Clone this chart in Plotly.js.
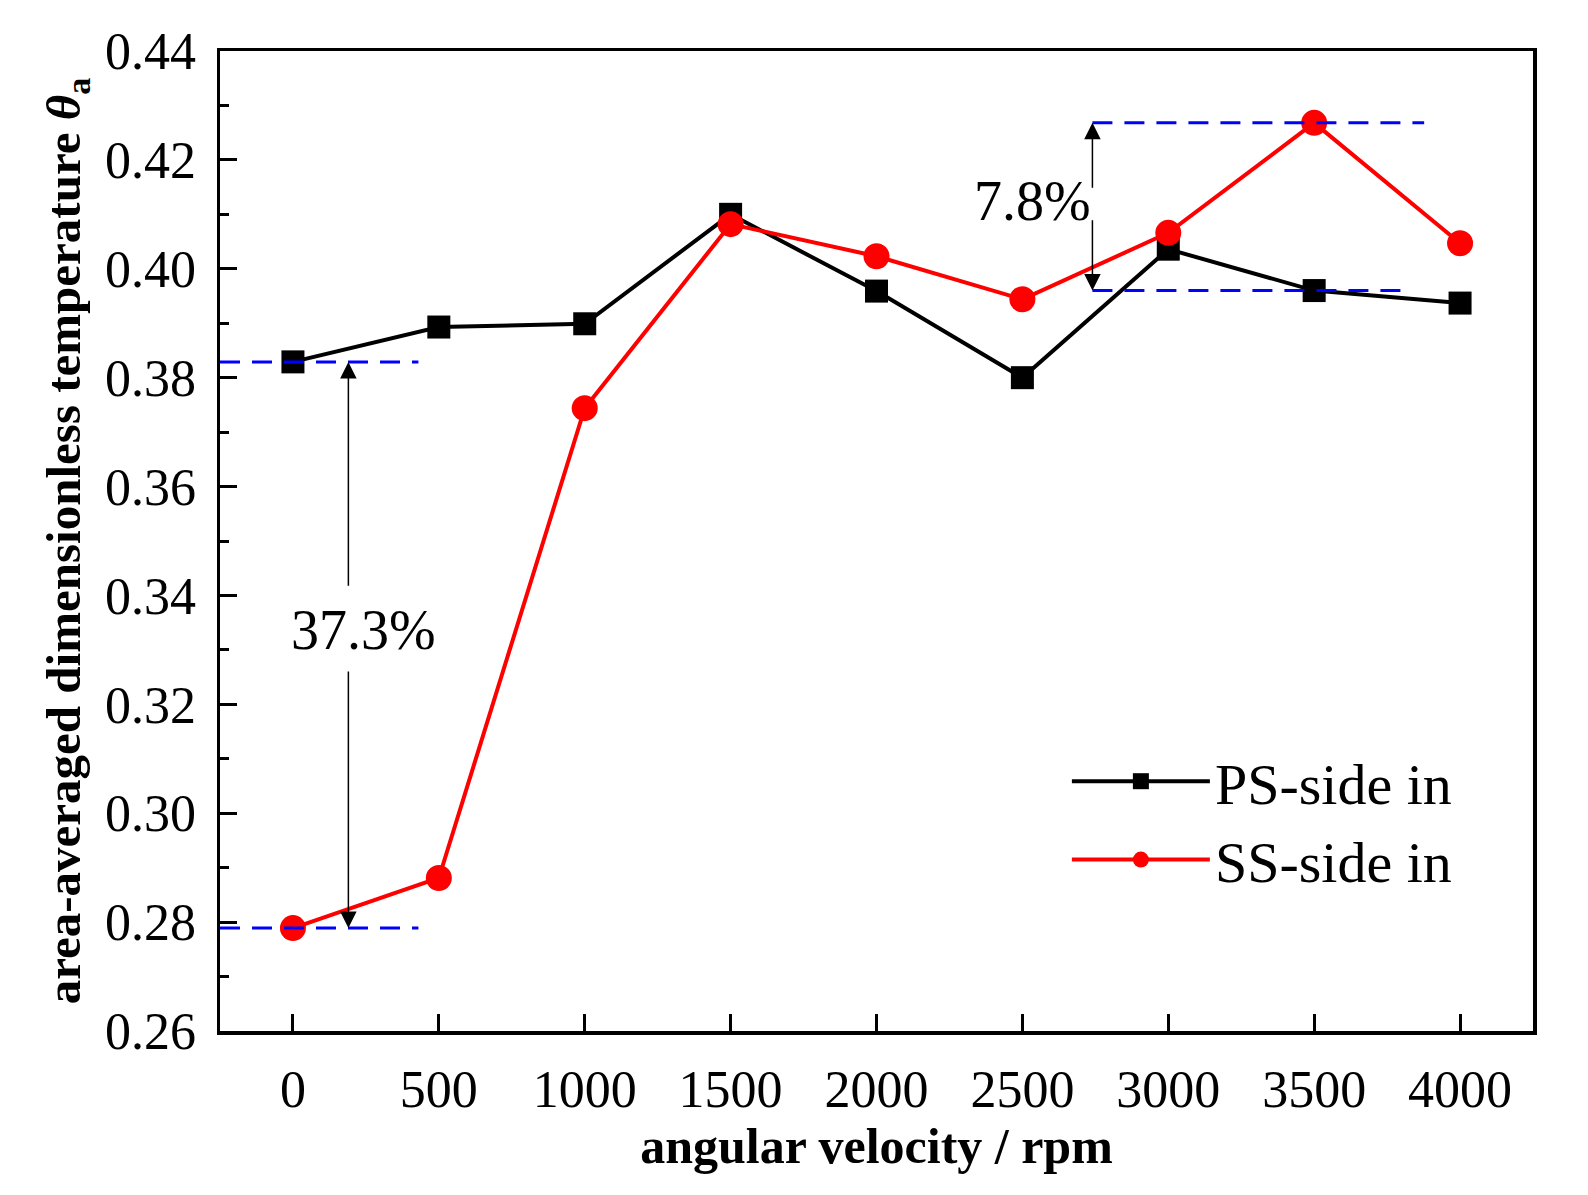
<!DOCTYPE html>
<html>
<head>
<meta charset="utf-8">
<script src="https://cdn.plot.ly/plotly-3.0.1.min.js"></script>
<style>
  body { margin: 0; background: #fff; }
  #plot { width: 1588px; height: 1195px; }
</style>
</head>
<body>
<div id="plot"></div>
<script>
const rpm = [0, 500, 1000, 1500, 2000, 2500, 3000, 3500, 4000]
const ps_side = [0.3829, 0.3893, 0.3899, 0.4100, 0.3959, 0.3800, 0.4036, 0.3960, 0.3937]
const ss_side = [0.2789, 0.2881, 0.3744, 0.4082, 0.4023, 0.3944, 0.4066, 0.4268, 0.4047]
const series_names = ["PS-side in", "SS-side in"]
const y_ticks = [0.26, 0.28, 0.30, 0.32, 0.34, 0.36, 0.38, 0.40, 0.42, 0.44]

// annotation anchors (rpm / value)
const gap_left = { x: 190, label_x: 243, label_y: 0.3336, top_end: 0.3415, bot_start: 0.3263, line_end: 430 }
const gap_right = { x: 2740, label_x: 2534, label_y: 0.4125, top_end: 0.4146, bot_start: 0.4092, top_line_end: 3877, bot_line_end: 3826 }

const font_family = '"Liberation Serif", "Times New Roman", serif'

const data = [
    {
        x: rpm, y: ps_side, name: series_names[0], mode: 'lines+markers',
        line: { color: '#000000', width: 4 },
        marker: { symbol: 'square', size: 23, color: '#000000' }
    },
    {
        x: rpm, y: ss_side, name: series_names[1], mode: 'lines+markers',
        line: { color: '#ff0000', width: 4 },
        marker: { symbol: 'circle', size: 26, color: '#ff0000' }
    },
]

const dash = { color: '#0000ff', width: 3, dash: '20px,12px' }

const shapes = [
    // 37.3% guide lines, from the frame to ~430 rpm
    { type: 'line', xref: 'x', yref: 'y', x0: -250, x1: gap_left.line_end, y0: ps_side[0], y1: ps_side[0], line: dash },
    { type: 'line', xref: 'x', yref: 'y', x0: -250, x1: gap_left.line_end, y0: ss_side[0], y1: ss_side[0], line: dash },
    // 7.8% guide lines
    { type: 'line', xref: 'x', yref: 'y', x0: gap_right.x, x1: gap_right.top_line_end, y0: ss_side[7], y1: ss_side[7], line: dash },
    { type: 'line', xref: 'x', yref: 'y', x0: gap_right.x, x1: gap_right.bot_line_end, y0: ps_side[7], y1: ps_side[7], line: dash },
]

function arrow(x, from, to)
{
    return {
        x: x, y: to, ax: x, ay: from, xref: 'x', yref: 'y', axref: 'x', ayref: 'y',
        text: '', showarrow: true, arrowhead: 2, arrowsize: 2.2, arrowwidth: 1.5, arrowcolor: '#000000'
    }
}

const annotations = [
    arrow(gap_left.x, gap_left.top_end, ps_side[0]),
    arrow(gap_left.x, gap_left.bot_start, ss_side[0]),
    { x: gap_left.label_x, y: gap_left.label_y, xref: 'x', yref: 'y', text: '37.3%', showarrow: false,
      font: { family: font_family, size: 56, color: '#000000' } },
    arrow(gap_right.x, gap_right.top_end, ss_side[7]),
    arrow(gap_right.x, gap_right.bot_start, ps_side[7]),
    { x: gap_right.label_x, y: gap_right.label_y, xref: 'x', yref: 'y', text: '7.8%', showarrow: false,
      font: { family: font_family, size: 56, color: '#000000' } },
]

const layout = {
    width: 1588,
    height: 1195,
    paper_bgcolor: '#ffffff',
    plot_bgcolor: '#ffffff',
    margin: { l: 220, r: 55, t: 51, b: 164 },
    font: { family: font_family, color: '#000000', size: 52 },
    showlegend: true,
    legend: {
        x: 0.645, y: 0.30, xanchor: 'left', yanchor: 'top',
        bgcolor: 'rgba(0,0,0,0)', font: { family: font_family, size: 58 },
        itemwidth: 138, tracegroupgap: 0
    },
    xaxis: {
        range: [-250, 4250],
        tickmode: 'array', tickvals: rpm, ticktext: rpm.map(String),
        ticks: 'inside', ticklen: 17, tickwidth: 3, tickcolor: '#000000',
        showline: true, linewidth: 3.5, linecolor: '#000000', mirror: true,
        showgrid: false, zeroline: false,
        ticklabelstandoff: 10,
        tickfont: { family: font_family, size: 52 },
        title: { text: '<b>angular velocity / rpm</b>', standoff: 6,
                 font: { family: font_family, size: 50 } }
    },
    yaxis: {
        range: [0.26, 0.44],
        tickmode: 'array', tickvals: y_ticks, ticktext: y_ticks.map(v => v.toFixed(2)),
        ticks: 'inside', ticklen: 17, tickwidth: 3, tickcolor: '#000000',
        minor: { dtick: 0.01, ticks: 'inside', ticklen: 9, tickwidth: 3, tickcolor: '#000000', showgrid: false },
        showline: true, linewidth: 3.5, linecolor: '#000000', mirror: true,
        showgrid: false, zeroline: false,
        ticklabelstandoff: 10,
        tickfont: { family: font_family, size: 52 },
        title: { text: '<b>area-averaged dimensionless temperature <i>θ</i><sub>a</sub></b>', standoff: 10,
                 font: { family: font_family, size: 49 } }
    },
    shapes: shapes,
    annotations: annotations,
}

Plotly.newPlot('plot', data, layout, { displayModeBar: false, staticPlot: true })
</script>
</body>
</html>
